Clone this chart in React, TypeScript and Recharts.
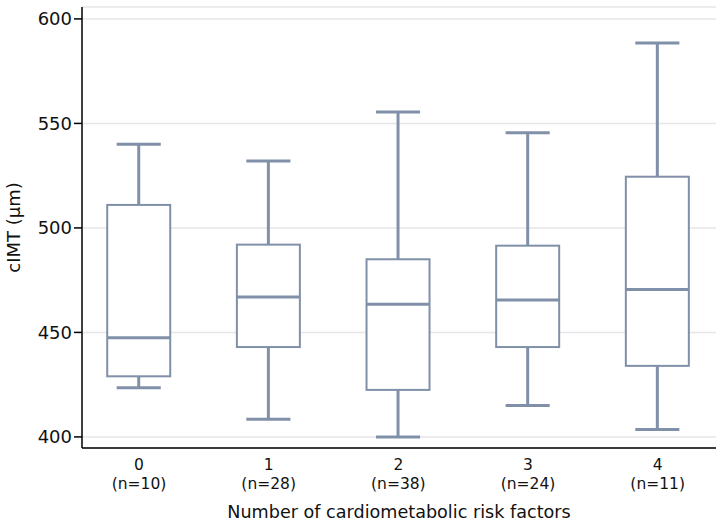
import { ComposedChart, Bar, XAxis, YAxis, CartesianGrid } from 'recharts';

const groups = [0, 1, 2, 3, 4];
const counts = [10, 28, 38, 24, 11];
const whiskerLow = [423.5, 408.5, 400, 415, 403.5];
const q1 = [429, 443, 422.5, 443, 434];
const median = [447.5, 467, 463.5, 465.5, 470.5];
const q3 = [511, 492, 485, 491.5, 524.5];
const whiskerHigh = [540, 532, 555.5, 545.5, 588.5];
const yTicks = [400, 450, 500, 550, 600];

const data = groups.map((g, i) => ({
  group: g,
  n: counts[i],
  low: whiskerLow[i],
  q1: q1[i],
  median: median[i],
  q3: q3[i],
  high: whiskerHigh[i],
}));

const BOX_COLOR = '#8090a8';

function BoxShape(props: any) {
  const { x, y, width, height, payload } = props;
  const top = Math.min(y, y + height);
  const h = Math.abs(height);
  const span = payload.high - payload.low;
  const py = (v: number) => top + ((payload.high - v) / span) * h;
  const cx = x + width / 2;
  const capHalf = width * 0.35;
  const yHigh = py(payload.high);
  const yQ3 = py(payload.q3);
  const yMed = py(payload.median);
  const yQ1 = py(payload.q1);
  const yLow = py(payload.low);
  return (
    <g stroke={BOX_COLOR} fill="none">
      <line x1={cx} x2={cx} y1={yHigh} y2={yQ3} strokeWidth={3} />
      <line x1={cx} x2={cx} y1={yQ1} y2={yLow} strokeWidth={3} />
      <line x1={cx - capHalf} x2={cx + capHalf} y1={yHigh} y2={yHigh} strokeWidth={3} />
      <line x1={cx - capHalf} x2={cx + capHalf} y1={yLow} y2={yLow} strokeWidth={3} />
      <rect x={x} y={yQ3} width={width} height={yQ1 - yQ3} strokeWidth={2} fill="#fff" />
      <line x1={x} x2={x + width} y1={yMed} y2={yMed} strokeWidth={3} />
    </g>
  );
}

function GroupTick(props: any) {
  const { x, y, payload } = props;
  const i = groups.indexOf(payload.value);
  return (
    <text x={x} y={y} textAnchor="middle" fill="#111" fontSize={15.5}>
      <tspan x={x} dy={14}>{payload.value}</tspan>
      <tspan x={x} dy={19}>(n={counts[i]})</tspan>
    </text>
  );
}

export default function App() {
  return (
    <div style={{ position: 'absolute', left: 0, top: 0, fontFamily: 'DejaVu Sans', background: '#fff' }}>
      <ComposedChart
        width={716}
        height={526}
        data={data}
        margin={{ top: 7, right: 0, bottom: 0, left: 0 }}
      >
        <CartesianGrid vertical={false} stroke="#e6e6e8" strokeWidth={1.5} />
        <XAxis
          dataKey="group"
          type="number"
          domain={[-0.44, 4.45]}
          allowDataOverflow
          ticks={groups}
          interval={0}
          height={78}
          tickLine={false}
          axisLine={{ stroke: '#000', strokeWidth: 1.5 }}
          tick={<GroupTick />}
          label={{
            value: 'Number of cardiometabolic risk factors',
            position: 'insideBottom',
            offset: 8,
            fill: '#111',
            fontSize: 17.6,
          }}
        />
        <YAxis
          domain={[394.7, 605.7]}
          allowDataOverflow
          ticks={yTicks}
          interval={0}
          width={82}
          tickSize={8}
          tickLine={{ stroke: '#000', strokeWidth: 1.5 }}
          axisLine={{ stroke: '#000', strokeWidth: 1.5 }}
          tick={{ fill: '#111', fontSize: 18 }}
          label={{
            value: 'cIMT (μm)',
            angle: -90,
            position: 'insideLeft',
            offset: 14,
            fill: '#111',
            fontSize: 18,
            style: { textAnchor: 'middle' },
          }}
        />
        <Bar
          dataKey={(d: any) => [d.low, d.high]}
          barSize={63}
          shape={<BoxShape />}
          isAnimationActive={false}
        />
      </ComposedChart>
    </div>
  );
}
